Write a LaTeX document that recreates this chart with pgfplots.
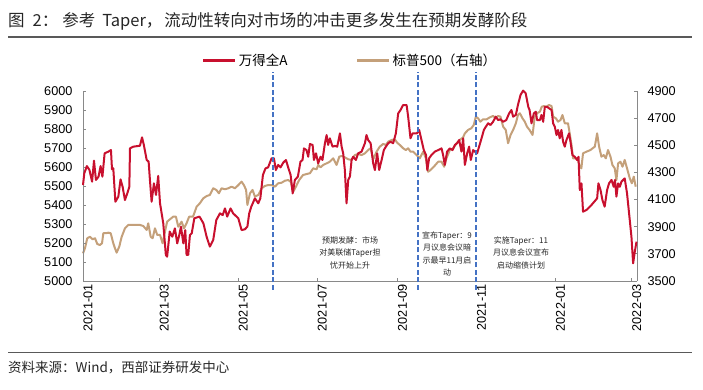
\documentclass[border=0pt]{standalone}
\usepackage{pgfplots}
\pgfplotsset{compat=1.18}
\usepackage{fontspec}
\setmainfont{Liberation Sans}
\newfontfamily\cjk{Noto Sans CJK SC}
\definecolor{redA}{RGB}{200,16,46}
\definecolor{tanS}{RGB}{196,160,122}
\definecolor{blueD}{RGB}{68,114,196}
\definecolor{axgray}{RGB}{137,137,137}
\definecolor{txt}{RGB}{38,38,38}
\begin{document}
\begin{tikzpicture}
\path[use as bounding box] (0pt,0pt) rectangle (703pt,-390pt);
\pgfplotsset{
  base/.style={
    scale only axis, width=554pt, height=190pt,
    at={(83pt,-281pt)}, anchor=south west,
    xmin=0, xmax=428,
    axis line style={axgray, line width=0.8pt, -},
    tick style={axgray, line width=0.8pt},
    major tick length=3pt, tick align=inside,
    /pgf/number format/assume math mode=true,
    ticklabel style={font=\fontsize{12.7}{14}\selectfont, text=black},
    clip=false,
  }
}
% right axis: S&P 500
\begin{axis}[base,
  axis y line*=right, axis x line=none,
  ymin=3500, ymax=4900, ytick={3500,3700,...,4900},
  yticklabel style={xshift=7pt, /pgf/number format/1000 sep={}},
]
\addplot[tanS, line width=2pt, line join=round] coordinates {
(0,3704)(1.5,3741)(3.3,3815)(5.4,3826)(7.5,3807)(9.3,3815)(11,3773)(13,3765)(14.7,3778)(15.7,3852)(17.8,3852)(19.5,3856)(21.4,3852)(23.4,3778)(24.7,3741)(26,3709)(28,3753)(29.9,3826)(32.4,3888)(35,3913)(38.8,3913)(44,3913)(46.6,3905)(49.2,3876)(50.4,3925)(52.3,3826)(53.8,3815)(55.6,3888)(57.4,3839)(59.5,3839)(61.5,3778)(63.3,3863)(65,3937)(67.2,3955)(69.7,3974)(71.8,3974)(73.6,3900)(76.2,3937)(78,3888)(80,3925)(82,3974)(85,3974)(87.8,4048)(90.3,4073)(92.9,4109)(95.5,4126)(98,4134)(100.6,4183)(103,4171)(105,4146)(107,4183)(109.7,4176)(112.2,4183)(114.8,4195)(117.4,4183)(120,4207)(122.5,4232)(124.3,4207)(126,4171)(127,4060)(129,4146)(131,4171)(132.8,4122)(135.4,4134)(138,4183)(140.5,4200)(143,4207)(145.7,4207)(148.3,4195)(150.8,4220)(153.4,4224)(156,4239)(158.5,4244)(160.4,4232)(162.4,4158)(164.5,4195)(167,4244)(170,4281)(172.7,4288)(175.3,4294)(177.8,4330)(180.5,4323)(181.7,4355)(183.5,4338)(185.6,4355)(188.2,4367)(190.7,4379)(193.3,4404)(195.9,4355)(198,4416)(199.8,4421)(202.3,4411)(204.9,4397)(207.5,4392)(210,4428)(212.6,4436)(215.2,4428)(217.8,4441)(220.3,4465)(222.2,4478)(224.2,4397)(226.8,4453)(229.3,4490)(231.9,4510)(234,4502)(235.8,4527)(238.4,4539)(240.9,4544)(242.7,4519)(244.8,4502)(247.3,4478)(249.4,4465)(251.2,4478)(253,4453)(255,4453)(257.7,4428)(260.2,4404)(262.8,4453)(264.9,4404)(266.6,4305)(268.5,4318)(271,4342)(274.4,4379)(277,4379)(279,4342)(280.8,4404)(283.4,4465)(286,4478)(288.6,4515)(291,4539)(293.7,4559)(295,4588)(297.5,4613)(300,4625)(301.9,4650)(303.5,4711)(305.2,4699)(307,4674)(309,4691)(311.7,4691)(314.3,4706)(316.8,4716)(318.9,4699)(320.7,4716)(322.5,4711)(324.6,4637)(326.6,4613)(328.4,4515)(330.3,4576)(332.3,4613)(334.4,4662)(336,4723)(337.5,4736)(339.5,4699)(341.3,4674)(343,4637)(345,4613)(347.3,4576)(349,4711)(350.8,4736)(353,4748)(354.4,4784)(356,4789)(358,4784)(360,4797)(362,4789)(363.2,4711)(365.3,4699)(367,4674)(368.9,4686)(370.4,4723)(372.2,4662)(374.7,4662)(376,4588)(377.4,4502)(378.6,4404)(380.7,4404)(382.4,4392)(383.8,4342)(385,4330)(386.3,4441)(389,4453)(392,4465)(395.4,4490)(397.2,4588)(398.7,4490)(400.5,4416)(402.3,4428)(403.9,4404)(405.6,4465)(407.5,4416)(409,4355)(410.8,4330)(412.1,4244)(413.4,4367)(415.2,4379)(416.8,4342)(418.5,4392)(420.3,4330)(422.4,4257)(424,4220)(425.5,4269)(427,4195)
};
\end{axis}
% left axis: Wind All A
\begin{axis}[base,
  axis y line*=left, axis x line*=bottom,
  ymin=5000, ymax=6000, ytick={5000,5100,...,6000},
  yticklabel style={xshift=-7pt, /pgf/number format/1000 sep={}},
  xtick={0,59,120,181,243,304,365,424},
  xticklabels={2021-01,2021-03,2021-05,2021-07,2021-09,2021-11,2022-01,2022-03},
  xticklabel style={rotate=90, anchor=east, yshift=-5pt},
  legend columns=2,
  legend style={draw=none, fill=none, at={(axis description cs:0.482,1.163)}, anchor=center,
    font=\cjk\fontsize{13.5}{15}\selectfont, /tikz/every even column/.append style={column sep=66pt}},
  legend cell align=left,
  legend image code/.code={\draw[#1, line width=3pt] (0pt,0pt) -- (32pt,0pt);},
]
\addplot[redA, line width=2pt, line join=round] coordinates {
(0,5505)(1,5567)(3,5605)(5,5584)(7,5523)(8.5,5633)(10,5532)(12,5549)(13.6,5605)(15,5549)(16.7,5672)(19.6,5681)(21.6,5689)(22.4,5588)(23.4,5593)(25,5417)(27.3,5444)(29,5535)(30.6,5496)(32.4,5426)(34.2,5461)(35.8,5496)(36.3,5698)(38.8,5707)(44,5712)(45.6,5756)(47,5716)(49.2,5637)(50.7,5628)(51.7,5532)(53,5417)(54.8,5514)(56.4,5453)(58.1,5553)(59.5,5409)(62,5304)(64,5137)(65,5128)(67,5260)(69,5233)(71,5277)(72.8,5198)(74.4,5242)(75.7,5286)(77.5,5198)(79,5268)(80,5137)(81.3,5137)(82.6,5242)(84,5251)(86,5330)(90,5339)(93,5304)(95.5,5233)(98,5181)(100.6,5216)(103,5321)(105.8,5356)(107.9,5347)(109.7,5382)(111.4,5339)(114,5382)(116,5356)(120,5330)(122.5,5268)(125,5272)(127,5286)(128.4,5356)(130,5391)(132.8,5435)(135.4,5409)(137,5435)(139,5558)(141,5593)(143,5598)(145.7,5646)(147.5,5646)(149,5584)(150.8,5611)(152.6,5598)(154.7,5623)(156.8,5637)(158.5,5598)(160.4,5558)(162,5461)(163.7,5532)(166,5549)(168,5628)(169.6,5637)(170.7,5698)(172.7,5689)(174,5654)(175.3,5721)(177.4,5716)(178.4,5637)(180,5672)(181.7,5619)(183.5,5654)(185,5637)(186.9,5725)(188.2,5768)(189.4,5716)(190.7,5751)(192.8,5707)(194.6,5711)(196.4,5707)(198.5,5777)(199.8,5707)(201,5672)(202.3,5584)(203.6,5409)(204.9,5532)(206.2,5549)(207.5,5637)(208.7,5654)(210.8,5637)(212.6,5672)(215.2,5681)(217.8,5725)(219,5768)(220.3,5742)(222.2,5725)(224.2,5619)(225.5,5584)(227.3,5672)(228.8,5584)(230.7,5637)(232.4,5689)(234,5707)(235.8,5725)(237.6,5733)(239.6,5725)(241.7,5777)(243.5,5882)(245.3,5900)(247.3,5926)(250,5926)(251.2,5865)(253,5751)(254.6,5777)(258,5777)(259.7,5795)(261.5,5742)(263.3,5689)(265,5663)(266,5584)(267.4,5646)(269.2,5663)(271.8,5681)(274.4,5689)(277,5698)(278.2,5663)(279.5,5611)(281.3,5681)(283.4,5698)(285.5,5689)(287.3,5716)(289,5725)(290.6,5742)(292.4,5681)(293.7,5751)(295,5611)(296.8,5672)(298.3,5707)(299.6,5637)(301.4,5689)(302.7,5681)(304.5,5672)(306,5707)(307.9,5751)(309.7,5795)(311.2,5812)(313,5830)(314.8,5821)(316.8,5838)(318.9,5865)(320.7,5847)(322.5,5851)(324.6,5838)(327,5847)(329.2,5882)(331,5900)(332.3,5865)(334.4,5874)(336,5926)(338,5979)(340,6002)(342,5988)(344,5917)(345,5900)(346.5,5830)(348.3,5882)(349.8,5891)(350.8,5847)(353,5847)(354.2,5874)(355.5,5838)(356.8,5917)(358.5,5917)(360,5909)(362,5900)(363.2,5830)(364.5,5812)(365.8,5768)(367,5795)(368.3,5751)(369.6,5795)(370.9,5733)(372.2,5707)(373.5,5742)(375.5,5777)(376.6,5733)(378.1,5663)(379.9,5654)(381.7,5637)(382.8,5654)(383.8,5479)(385.1,5514)(386.3,5365)(389,5374)(392.8,5400)(397.2,5435)(398.2,5514)(399.8,5479)(401.3,5426)(403,5391)(404.9,5479)(406.4,5514)(408.3,5532)(410,5496)(411,5532)(412.1,5444)(413.4,5514)(414.7,5496)(416,5523)(418.5,5540)(420.3,5461)(422.4,5321)(423.7,5233)(425,5093)(426.3,5154)(427.6,5207)
};
\addlegendentry{万得全A}
\addlegendimage{tanS}
\addlegendentry{标普500（右轴）}
\addplot[blueD, line width=2pt, dash pattern=on 5pt off 2.5pt, forget plot] coordinates {(146.4,4953) (146.4,6100)};
\addplot[blueD, line width=2pt, dash pattern=on 5pt off 2.5pt, forget plot] coordinates {(258.9,4953) (258.9,6100)};
\addplot[blueD, line width=2pt, dash pattern=on 5pt off 2.5pt, forget plot] coordinates {(303.5,4953) (303.5,6100)};
\end{axis}
% annotations
\node[font=\cjk\fontsize{8}{12.5}\selectfont, align=center, text=txt] at (350pt,-252.7pt) {预期发酵：市场\\对美联储Taper担\\忧开始上升};
\node[font=\cjk\fontsize{8}{12.5}\selectfont, align=center, text=txt] at (447pt,-253.8pt) {宣布Taper：9\\月议息会议暗\\示最早11月启\\动};
\node[font=\cjk\fontsize{8}{12.5}\selectfont, align=center, text=txt] at (521pt,-252.7pt) {实施Taper：11\\月议息会议宣布\\启动缩债计划};
% title, rules, source
\node[anchor=west, font=\cjk\fontsize{16.5}{18}\selectfont, text=txt, inner sep=0pt] at (8pt,-21.7pt) {图\hspace{8pt}2：\hspace{4pt}参考\hspace{7pt}Taper，\hspace{2pt}流动性转向对市场的冲击更多发生在预期发酵阶段};
\draw[black!65, line width=1.2pt] (8pt,-37pt) -- (692pt,-37pt);
\draw[black!65, line width=1.2pt] (8pt,-352.7pt) -- (692pt,-352.7pt);
\node[anchor=west, font=\cjk\fontsize{13.5}{15}\selectfont, text=txt, inner sep=0pt] at (8pt,-367.7pt) {资料来源：Wind，西部证券研发中心};
\end{tikzpicture}
\end{document}
